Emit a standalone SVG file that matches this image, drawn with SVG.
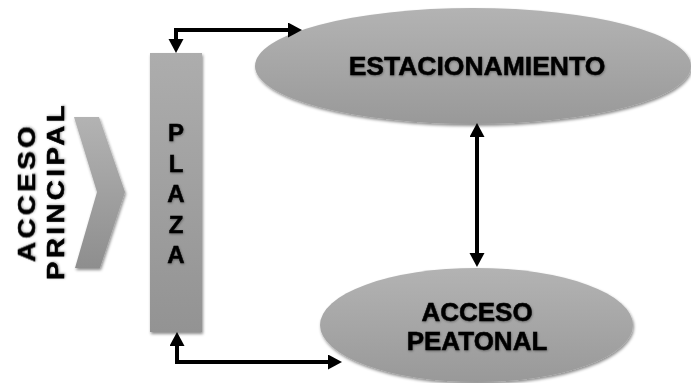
<svg xmlns="http://www.w3.org/2000/svg" width="691" height="383" viewBox="0 0 691 383">
<style>
  .lbl { font-family: "Liberation Sans", Arial, sans-serif; font-weight: bold; fill: #000; stroke: #000; stroke-width: 0.5; text-anchor: middle; }
  .conn { fill: none; stroke: #000; stroke-width: 4; marker-start: url(#ah); marker-end: url(#ah); }
</style>
<defs>
  <linearGradient id="gEll" x1="0" y1="0" x2="0" y2="1">
    <stop offset="0" stop-color="#b3b3b3"/>
    <stop offset="1" stop-color="#999999"/>
  </linearGradient>
  <linearGradient id="gRect" x1="0" y1="0" x2="0" y2="1">
    <stop offset="0" stop-color="#adadad"/>
    <stop offset="1" stop-color="#939393"/>
  </linearGradient>
  <linearGradient id="gChev" x1="0" y1="0" x2="0" y2="1">
    <stop offset="0" stop-color="#b3b3b3"/>
    <stop offset="1" stop-color="#8e8e8e"/>
  </linearGradient>
  <filter id="sh" x="-10%" y="-10%" width="120%" height="130%">
    <feDropShadow dx="1" dy="2" stdDeviation="1.8" flood-color="#000" flood-opacity="0.45"/>
  </filter>
  <filter id="tsh" x="-10%" y="-10%" width="120%" height="130%">
    <feDropShadow dx="0.5" dy="1" stdDeviation="0.8" flood-color="#000" flood-opacity="0.35"/>
  </filter>
  <marker id="ah" markerUnits="userSpaceOnUse" markerWidth="16" markerHeight="16" refX="4" refY="7.5" orient="auto-start-reverse" viewBox="0 0 16 16">
    <path d="M0,0 L14,7.5 L0,15 z" fill="#000"/>
  </marker>
</defs>

<g id="acceso-principal">
  <polygon points="74,117 99,117 125,192 100,268 75,268 97,192" fill="url(#gChev)" filter="url(#sh)"/>
  <text class="lbl" font-size="24" letter-spacing="3" transform="translate(35,192.5) rotate(-90)" textLength="139" lengthAdjust="spacingAndGlyphs" filter="url(#tsh)">ACCESO</text>
  <text class="lbl" font-size="24" letter-spacing="3" transform="translate(64,191) rotate(-90)" textLength="178" lengthAdjust="spacingAndGlyphs" filter="url(#tsh)">PRINCIPAL</text>
</g>

<g id="plaza">
  <rect x="150" y="53" width="52" height="279" fill="url(#gRect)" filter="url(#sh)"/>
  <g font-size="24" filter="url(#tsh)">
    <text x="176" y="141" class="lbl">P</text>
    <text x="176" y="172" class="lbl">L</text>
    <text x="176" y="202" class="lbl">A</text>
    <text x="176" y="233" class="lbl">Z</text>
    <text x="176" y="263" class="lbl">A</text>
  </g>
</g>

<g id="estacionamiento">
  <ellipse cx="473" cy="66" rx="218" ry="58" fill="url(#gEll)" filter="url(#sh)"/>
  <text class="lbl" x="477" y="75" font-size="26.5" filter="url(#tsh)">ESTACIONAMIENTO</text>
</g>

<g id="acceso-peatonal">
  <ellipse cx="476.5" cy="325" rx="156.5" ry="57" fill="url(#gEll)" filter="url(#sh)"/>
  <text class="lbl" x="477" y="321" font-size="26" filter="url(#tsh)">ACCESO</text>
  <text class="lbl" x="477" y="350" font-size="26" filter="url(#tsh)">PEATONAL</text>
</g>

<g id="connectors">
  <path class="conn" d="M292,30 H176 V43"/>
  <path class="conn" d="M177,342 V362 H332"/>
  <path class="conn" d="M477,133 V257" stroke-width="3.5"/>
</g>
</svg>
